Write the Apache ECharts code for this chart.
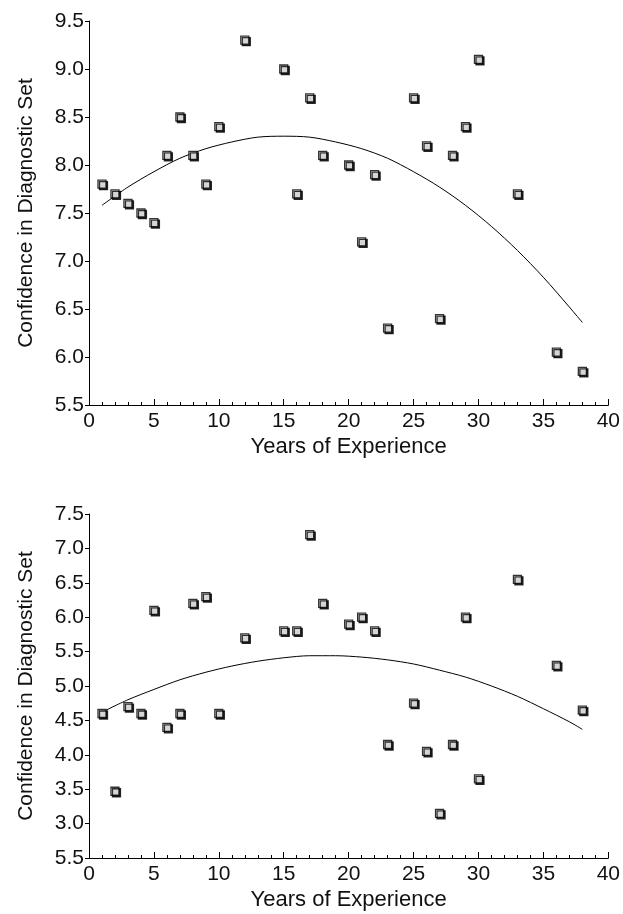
<!DOCTYPE html>
<html>
<head>
<meta charset="utf-8">
<script src="https://cdn.jsdelivr.net/npm/echarts@6/dist/echarts.min.js"></script>
<style>
html,body{margin:0;padding:0;background:#fff;}
#chart{width:623px;height:914px;}
</style>
</head>
<body>
<div id="chart"></div>
<script>
// Years of experience (same participants in both panels)
const years = [1,2,3,4,5,6,7,8,9,10,12,15,16,17,18,20,21,22,23,25,26,27,28,29,30,33,36,38];
// Top panel: confidence values
const topValues = [7.8,7.7,7.6,7.5,7.4,8.1,8.5,8.1,7.8,8.4,9.3,9.0,7.7,8.7,8.1,8.0,7.2,7.9,6.3,8.7,8.2,6.4,8.1,8.4,9.1,7.7,6.05,5.85];
// Bottom panel: confidence values
const bottomValues = [4.6,3.47,4.7,4.6,6.1,4.4,4.6,6.2,6.3,4.6,5.7,5.8,5.8,7.2,6.2,5.9,6.0,5.8,4.15,4.75,4.05,3.15,4.15,6.0,3.65,6.55,5.3,4.65];
// Fitted curves
const fitX = [1,3,5,7,9,11,13,15,17,19,21,23,25,27,29,31,33,35,37,38];
const topFitY = [7.58,7.77,7.93,8.07,8.17,8.24,8.29,8.30,8.29,8.24,8.17,8.07,7.93,7.77,7.58,7.36,7.11,6.83,6.52,6.36];
const bottomFitY = [4.62,4.80,4.95,5.09,5.20,5.29,5.36,5.41,5.44,5.44,5.42,5.38,5.32,5.23,5.13,5.00,4.85,4.67,4.48,4.37];
// Axis text
const xTitle = 'Years of Experience';
const yTitle = 'Confidence in Diagnostic Set';

const FONT = 'Liberation Sans';
const pair = (xs, ys) => xs.map((x, i) => [x, ys[i]]);

function xAxisCfg(gridIndex) {
  return {
    type: 'value', gridIndex, min: 0, max: 40, interval: 5,
    name: xTitle, nameLocation: 'middle', nameGap: 31,
    nameTextStyle: {fontFamily: FONT, fontSize: 22, color: '#111'},
    axisLine: {show: true, onZero: false, lineStyle: {color: '#000', width: 1}},
    axisTick: {show: true, inside: true, length: 6, lineStyle: {color: '#000'}},
    minorTick: {show: true, splitNumber: 5, length: 3, lineStyle: {color: '#000'}},
    axisLabel: {fontFamily: FONT, fontSize: 21, color: '#111', margin: 6},
    splitLine: {show: false}
  };
}
function yAxisCfg(gridIndex, min, max, fmt) {
  return {
    type: 'value', gridIndex, min, max, interval: 0.5,
    name: yTitle, nameLocation: 'middle', nameGap: 52,
    nameTextStyle: {fontFamily: FONT, fontSize: 21, color: '#111'},
    axisLine: {show: true, onZero: false, lineStyle: {color: '#000', width: 1}},
    axisTick: {show: true, inside: false, length: 4, lineStyle: {color: '#000'}},
    axisLabel: {fontFamily: FONT, fontSize: 21, color: '#111', margin: 5, formatter: fmt},
    splitLine: {show: false}
  };
}
const scatterStyle = {
  type: 'scatter', symbol: 'rect', symbolSize: 8,
  itemStyle: {color: '#fff', borderColor: '#000', borderWidth: 1.3,
    shadowColor: '#000', shadowBlur: 0, shadowOffsetX: 1.5, shadowOffsetY: 1.5},
  z: 5
};
const lineStyle = {
  type: 'line', smooth: 0.3, showSymbol: false, symbol: 'none',
  lineStyle: {color: '#000', width: 1}, z: 3
};

const chart = echarts.init(document.getElementById('chart'), null, {renderer: 'canvas'});
chart.setOption({
  backgroundColor: '#fff',
  animation: false,
  grid: [
    {left: 89, right: 13, top: 21, height: 384},
    {left: 89, right: 13, top: 514, height: 344}
  ],
  xAxis: [xAxisCfg(0), xAxisCfg(1)],
  yAxis: [
    yAxisCfg(0, 5.5, 9.5, v => v.toFixed(1)),
    yAxisCfg(1, 2.5, 7.5, v => (Math.abs(v - 2.5) < 1e-9 ? '5.5' : v.toFixed(1)))
  ],
  series: [
    Object.assign({}, scatterStyle, {xAxisIndex: 0, yAxisIndex: 0, data: pair(years, topValues)}),
    Object.assign({}, lineStyle, {xAxisIndex: 0, yAxisIndex: 0, data: pair(fitX, topFitY)}),
    Object.assign({}, scatterStyle, {xAxisIndex: 1, yAxisIndex: 1, data: pair(years, bottomValues)}),
    Object.assign({}, lineStyle, {xAxisIndex: 1, yAxisIndex: 1, data: pair(fitX, bottomFitY)})
  ]
});
</script>
</body>
</html>
